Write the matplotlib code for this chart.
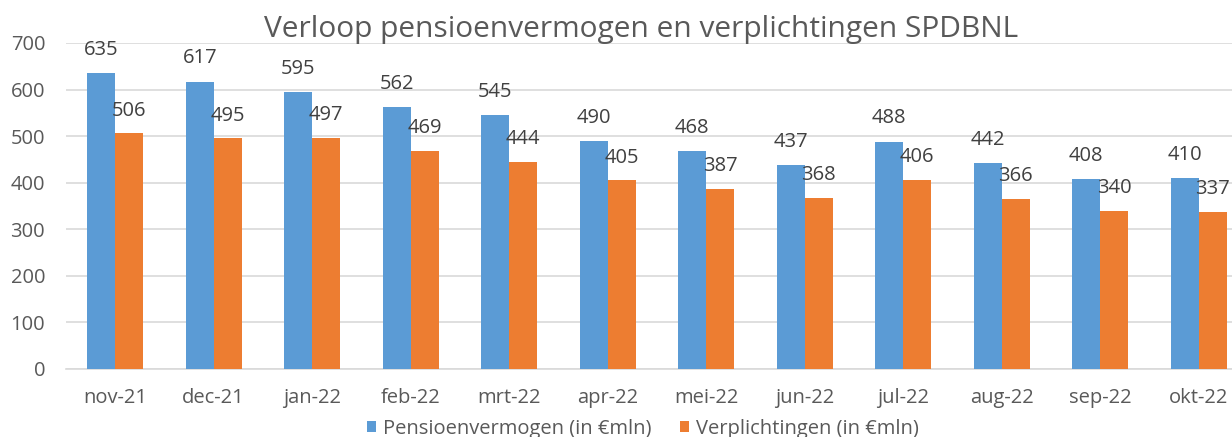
import matplotlib
matplotlib.use("Agg")
import matplotlib.pyplot as plt
import numpy as np

categories = ["nov-21", "dec-21", "jan-22", "feb-22", "mrt-22", "apr-22",
              "mei-22", "jun-22", "jul-22", "aug-22", "sep-22", "okt-22"]
pensioenvermogen = [635, 617, 595, 562, 545, 490, 468, 437, 488, 442, 408, 410]
verplichtingen = [506, 495, 497, 469, 444, 405, 387, 368, 406, 366, 340, 337]

plt.rcParams['font.family'] = ['Open Sans', 'DejaVu Sans']
txt = '#595959'
blue = '#5B9BD5'
orange = '#ED7D31'
fs = 14.5

fig = plt.figure(figsize=(12.32, 4.37), dpi=100)
ax = fig.add_axes([66/1232, 68/437, 1182/1232, 326/437])
x = np.arange(len(categories))
w = 0.284
ax.bar(x - w/2, pensioenvermogen, w, color=blue, label='Pensioenvermogen (in €mln)', zorder=3)
ax.bar(x + w/2, verplichtingen, w, color=orange, label='Verplichtingen (in €mln)', zorder=3)
for xi, v in zip(x, pensioenvermogen):
    ax.text(xi - w/2, v + 50, str(v), ha='center', va='center', fontsize=fs, color='#404040')
for xi, v in zip(x, verplichtingen):
    ax.text(xi + w/2, v + 49, str(v), ha='center', va='center', fontsize=fs, color='#404040')
ax.set_xlim(-0.5, len(categories) - 0.5)
ax.set_ylim(0, 700)
ax.set_yticks(range(0, 701, 100))
ax.set_xticks(x)
ax.set_xticklabels(categories)
ax.tick_params(axis='both', length=0, labelsize=fs, colors=txt)
ax.tick_params(axis='x', pad=14)
ax.tick_params(axis='y', pad=15)
ax.grid(axis='y', color='#D9D9D9', linewidth=1.2, zorder=0)
for s in ['top', 'right', 'left']:
    ax.spines[s].set_visible(False)
ax.spines['bottom'].set_color('#D9D9D9')
ax.spines['bottom'].set_linewidth(1.2)
fig.text(641/1232, 1 - 30/437, 'Verloop pensioenvermogen en verplichtingen SPDBNL',
         ha='center', va='center', fontsize=21.5, color=txt)
fig.legend(loc='center', bbox_to_anchor=(643/1232, 1 - 429/437), ncol=2, frameon=False,
           fontsize=fs, labelcolor=txt, handlelength=0.45, handleheight=0.45,
           columnspacing=1.4, handletextpad=0.35, borderpad=0)
fig.savefig('out.png', dpi=100)
